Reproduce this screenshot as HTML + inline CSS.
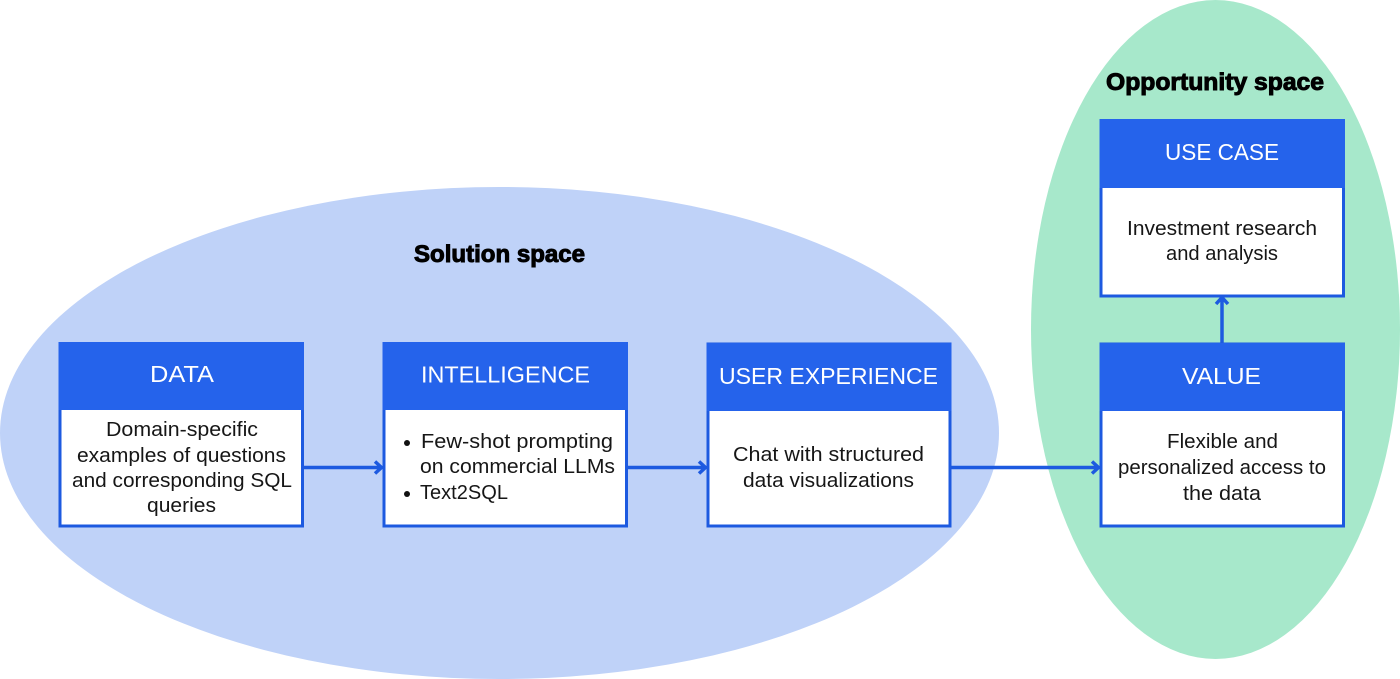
<!DOCTYPE html>
<html>
<head>
<meta charset="utf-8">
<style>
html,body{margin:0;padding:0;background:#fff;width:1400px;height:679px;overflow:hidden}
svg{display:block}
text{font-family:"Liberation Sans",sans-serif}
.h{font-size:23.5px;fill:#fff}
.b{font-size:20.5px;fill:#161616}
.t{font-size:24.5px;font-weight:bold;fill:#000;stroke:#000;stroke-width:1px}
</style>
</head>
<body>
<svg width="1400" height="679" viewBox="0 0 1400 679" xmlns="http://www.w3.org/2000/svg">
<rect width="1400" height="679" fill="#fff"/>
<ellipse cx="499.5" cy="433" rx="499.5" ry="246" fill="#bfd2f8"/>
<ellipse cx="1215.5" cy="329.5" rx="184.5" ry="329.5" fill="#a7e8cb"/>

<g fill="#fff" stroke="#1d5ae0" stroke-width="3">
<rect x="60" y="344" width="242.500" height="182"/>
<rect x="384" y="344" width="242.500" height="182"/>
<rect x="708" y="344" width="242" height="182"/>
<rect x="1101" y="344" width="242.500" height="182"/>
<rect x="1101" y="121" width="242.500" height="175"/>
</g>
<g fill="#2563eb">
<rect x="58.500" y="342" width="245.500" height="68"/>
<rect x="382.500" y="342" width="245.500" height="68"/>
<rect x="706.500" y="343" width="245" height="68"/>
<rect x="1099.500" y="343" width="245.500" height="68"/>
<rect x="1099.500" y="119" width="245.500" height="69"/>
</g>

<g fill="none" stroke="#1d5ae0" stroke-width="3.500">
<path d="M304 467.500H381M375 461.500l6.500 6l-6.500 6"/>
<path d="M628 467.500H705M699 461.500l6.500 6l-6.500 6"/>
<path d="M951.500 467.500H1098M1092 461.500l6.500 6l-6.500 6"/>
<path d="M1222 343V298M1216 304l6-6.500l6 6.500"/>
</g>

<text class="t" x="414" y="262" textLength="171" lengthAdjust="spacingAndGlyphs">Solution space</text>
<text class="t" x="1106" y="90" textLength="218" lengthAdjust="spacingAndGlyphs">Opportunity space</text>

<g class="hdr">
<text class="h" x="150" y="382" textLength="64" lengthAdjust="spacingAndGlyphs">DATA</text>
<text class="h" x="421" y="382.500" textLength="169" lengthAdjust="spacingAndGlyphs">INTELLIGENCE</text>
<text class="h" x="719" y="384" textLength="219" lengthAdjust="spacingAndGlyphs">USER EXPERIENCE</text>
<text class="h" x="1182" y="384" textLength="79" lengthAdjust="spacingAndGlyphs">VALUE</text>
<text class="h" x="1165" y="160" textLength="114" lengthAdjust="spacingAndGlyphs">USE CASE</text>
</g>

<text class="b" x="106" y="436" textLength="152" lengthAdjust="spacingAndGlyphs">Domain-specific</text>
<text class="b" x="77" y="462" textLength="209" lengthAdjust="spacingAndGlyphs">examples of questions</text>
<text class="b" x="72" y="487" textLength="220" lengthAdjust="spacingAndGlyphs">and corresponding SQL</text>
<text class="b" x="147" y="512" textLength="69" lengthAdjust="spacingAndGlyphs">queries</text>

<circle cx="407" cy="443" r="3" fill="#111"/>
<circle cx="407" cy="494" r="3" fill="#111"/>
<text class="b" x="421" y="448" textLength="192" lengthAdjust="spacingAndGlyphs">Few-shot prompting</text>
<text class="b" x="420" y="473" textLength="195" lengthAdjust="spacingAndGlyphs">on commercial LLMs</text>
<text class="b" x="420" y="499" textLength="88" lengthAdjust="spacingAndGlyphs">Text2SQL</text>

<text class="b" x="733" y="461" textLength="191" lengthAdjust="spacingAndGlyphs">Chat with structured</text>
<text class="b" x="743" y="487" textLength="171" lengthAdjust="spacingAndGlyphs">data visualizations</text>

<text class="b" x="1167" y="448" textLength="111" lengthAdjust="spacingAndGlyphs">Flexible and</text>
<text class="b" x="1118" y="474" textLength="208" lengthAdjust="spacingAndGlyphs">personalized access to</text>
<text class="b" x="1183" y="500" textLength="78" lengthAdjust="spacingAndGlyphs">the data</text>

<text class="b" x="1127" y="235" textLength="190" lengthAdjust="spacingAndGlyphs">Investment research</text>
<text class="b" x="1166" y="260" textLength="112" lengthAdjust="spacingAndGlyphs">and analysis</text>
</svg>
</body>
</html>
